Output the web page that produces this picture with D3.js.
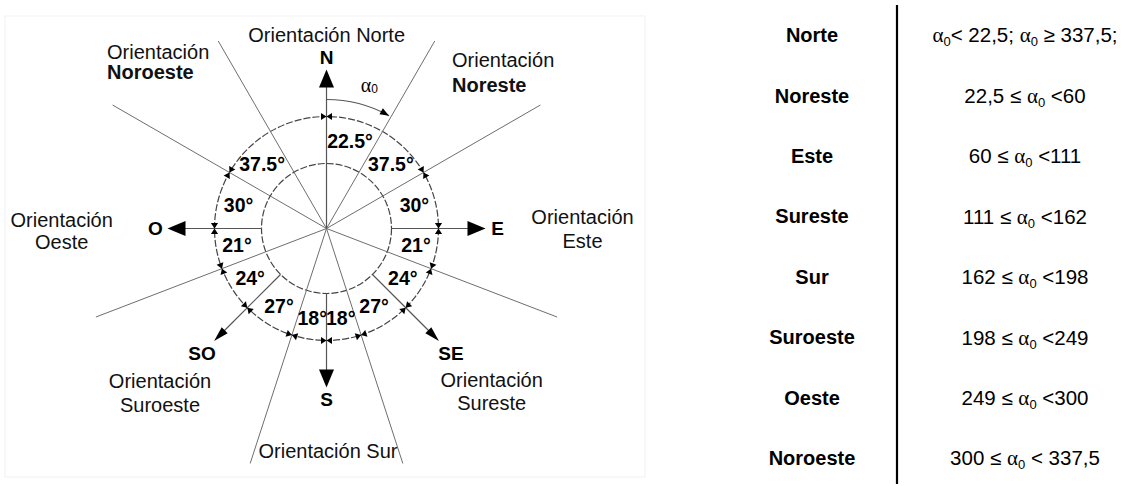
<!DOCTYPE html>
<html><head><meta charset="utf-8">
<script src="https://cdn.jsdelivr.net/npm/d3@7"></script>
<style>body{margin:0;background:#fff}</style>
</head><body><svg id="c" width="1131" height="486"></svg>
<script>
// ---------- DATA ----------
// sector boundaries (bearing from North, clockwise, degrees)
const boundaries = [22.5, 60, 111, 162, 198, 249, 300, 337.5];
// labelled angular spans in the compass
const spanStarts = [0, 22.5, 60, 90, 111, 135, 162, 180, 198, 225, 249, 270, 300];
const spanEnds   = [22.5, 60, 90, 111, 135, 162, 180, 198, 225, 249, 270, 300, 337.5];
// dimension marks on the outer circle
const tickBearings = [0, 60, 90, 111, 135, 162, 180, 198, 225, 249, 270, 300];
// direction arrows
const dirLabels   = ["N", "E", "SE", "S", "SO", "O"];
const dirBearings = [0, 90, 135, 180, 225, 270];
// orientation captions
const orientNames = ["Norte", "Noreste", "Este", "Sureste", "Sur", "Suroeste", "Oeste", "Noroeste"];
const orientPrefix = "Orientación";
// table
const tableNames  = ["Norte", "Noreste", "Este", "Sureste", "Sur", "Suroeste", "Oeste", "Noroeste"];
const tableRanges = ["α0< 22,5; α0 ≥ 337,5;", "22,5 ≤ α0 <60", "60 ≤ α0 <111", "111 ≤ α0 <162",
                     "162 ≤ α0 <198", "198 ≤ α0 <249", "249 ≤ α0 <300", "300 ≤ α0 < 337,5"];

// ---------- DRAW ----------
const svg = d3.select("#c");
const SANS = "'Liberation Sans', Arial, sans-serif";
svg.append("rect").attr("width", 1131).attr("height", 486).attr("fill", "#fff");
svg.append("rect").attr("x", 5).attr("y", 16).attr("width", 640).attr("height", 461)
  .attr("fill", "none").attr("stroke", "#f1f1f1");

const cx = 326.5, cy = 228.5, rOuter = 112, rInner = 65;
// the figure draws the North sector a bit wider than true scale
const figAngle = d3.scaleLinear().domain([0, 22.5, 60, 300, 337.5, 360]).range([0, 30, 60, 300, 330, 360]);
const rad = d3.scaleLinear().domain([0, 360]).range([0, 2 * Math.PI]);
const P = (b, r) => [cx + r * Math.sin(rad(b)), cy - r * Math.cos(rad(b))];

const g = svg.append("g");

// circles
[rInner, rOuter].forEach(r => g.append("circle").attr("cx", cx).attr("cy", cy).attr("r", r)
  .attr("fill", "none").attr("stroke", "#444").attr("stroke-width", 1.2).attr("stroke-dasharray", "7,2"));

// divider rays
boundaries.forEach(b => {
  const fb = figAngle(b);
  const c = Math.cos(rad(fb));
  let len = 247;
  if (c > 0) len = Math.min(len, (cy - 41) / c);
  const [x2, y2] = P(fb, len);
  g.append("line").attr("x1", cx).attr("y1", cy).attr("x2", x2).attr("y2", y2)
    .attr("stroke", "#6e6e6e").attr("stroke-width", 1);
});

// direction arrows
const tipR = 159;
dirBearings.forEach((b, i) => {
  const diag = b % 90 !== 0;
  const hl = diag ? 15 : 18, hw = diag ? 4.2 : 7.5;
  const r0 = b === 0 ? 0 : rInner;
  const [x1, y1] = P(b, r0), [x2, y2] = P(b, tipR - hl + 1);
  g.append("line").attr("x1", x1).attr("y1", y1).attr("x2", x2).attr("y2", y2)
    .attr("stroke", "#555").attr("stroke-width", 1.2);
  const tip = P(b, tipR), base = P(b, tipR - hl);
  const tx = Math.cos(rad(b)), ty = Math.sin(rad(b));
  g.append("path").attr("d", d3.line()([tip, [base[0] + hw * tx, base[1] + hw * ty], [base[0] - hw * tx, base[1] - hw * ty]]) + "Z")
    .attr("fill", "#000");
  const [lx, ly] = P(b, diag ? 176 : 171);
  g.append("text").attr("x", lx).attr("y", ly).attr("dy", "0.36em").attr("text-anchor", "middle")
    .attr("font-family", SANS).attr("font-weight", "bold").attr("font-size", 19).text(dirLabels[i]);
});

// hourglass dimension marks
tickBearings.forEach(b => {
  const p = P(b, rOuter);
  const t = [Math.cos(rad(b)), Math.sin(rad(b))], n = [Math.sin(rad(b)), -Math.cos(rad(b))];
  const L = 5.5, W = 3.6;
  [1, -1].forEach(s => {
    const bx = p[0] + s * L * t[0], by = p[1] + s * L * t[1];
    g.append("path").attr("d", d3.line()([p, [bx + W * n[0], by + W * n[1]], [bx - W * n[0], by - W * n[1]]]) + "Z")
      .attr("fill", "#000");
  });
});

// span labels
spanStarts.forEach((s, i) => {
  const e = spanEnds[i];
  const mid = (figAngle(s) + figAngle(e)) / 2;
  const [x, y] = P(mid, 91);
  g.append("text").attr("x", x).attr("y", y).attr("dy", "0.36em").attr("text-anchor", "middle")
    .attr("font-family", SANS).attr("font-weight", "bold").attr("font-size", 19.5)
    .text(d3.format("~g")(e - s) + "°");
});

// alpha0 arc
const arcEnd = figAngle(boundaries[0]) - 1, arcR = 129;
g.append("path").attr("transform", `translate(${cx},${cy})`)
  .attr("d", d3.arc()({innerRadius: arcR, outerRadius: arcR, startAngle: 0, endAngle: rad(arcEnd)}))
  .attr("fill", "none").attr("stroke", "#555").attr("stroke-width", 1.1);
{
  const p = P(arcEnd, arcR), t = [Math.cos(rad(arcEnd)), Math.sin(rad(arcEnd))], n = [Math.sin(rad(arcEnd)), -Math.cos(rad(arcEnd))];
  const bx = p[0] - 9 * t[0], by = p[1] - 9 * t[1];
  g.append("path").attr("d", d3.line()([p, [bx + 3.5 * n[0], by + 3.5 * n[1]], [bx - 3.5 * n[0], by - 3.5 * n[1]]]) + "Z").attr("fill", "#000");
  const [ax, ay] = P(arcEnd * 0.58, 148);
  const at = g.append("text").attr("x", ax).attr("y", ay).attr("dy", "0.3em").attr("text-anchor", "middle");
  at.append("tspan").attr("font-family", "'Liberation Serif', serif").attr("font-size", 20).text("α");
  at.append("tspan").attr("font-family", SANS).attr("font-size", 12).attr("dy", 1).text("0");
}

// orientation captions (layout of the figure)
const capLayout = {
  "Norte":    {x: 326.7, ys: [41.5], anchor: "middle", one: true},
  "Noreste":  {x: 452, ys: [66.5, 91.5], anchor: "start", bold: true},
  "Este":     {x: 582.5, ys: [223.5, 248], anchor: "middle"},
  "Sureste":  {x: 491.7, ys: [386.7, 410], anchor: "middle"},
  "Sur":      {x: 328, ys: [458.3], anchor: "middle", one: true},
  "Suroeste": {x: 160, ys: [388.3, 411.7], anchor: "middle"},
  "Oeste":    {x: 61.7, ys: [226.7, 248.5], anchor: "middle"},
  "Noroeste": {x: 107, ys: [58.5, 78.5], anchor: "start", bold: true}
};
orientNames.forEach(name => {
  const L = capLayout[name];
  const lines = L.one ? [orientPrefix + " " + name] : [orientPrefix, name];
  lines.forEach((txt, j) => {
    g.append("text").attr("x", L.x).attr("y", L.ys[j]).attr("text-anchor", L.anchor)
      .attr("font-family", SANS).attr("font-size", 20).attr("fill", "#111")
      .attr("font-weight", L.bold && j === 1 ? "bold" : "normal").text(txt);
  });
});

// ---------- TABLE ----------
const rowY = d3.scalePoint().domain(tableNames).range([35, 458]);
svg.append("line").attr("x1", 897).attr("x2", 897).attr("y1", 5).attr("y2", 484)
  .attr("stroke", "#000").attr("stroke-width", 2.2);
tableNames.forEach((nm, i) => {
  const y = rowY(nm);
  svg.append("text").attr("x", 812).attr("y", y).attr("dy", "0.36em").attr("text-anchor", "middle")
    .attr("font-family", SANS).attr("font-weight", "bold").attr("font-size", 20).text(nm);
  const t = svg.append("text").attr("x", 1025).attr("y", y).attr("dy", "0.36em").attr("text-anchor", "middle")
    .attr("font-family", SANS).attr("font-size", 20.5);
  const parts = tableRanges[i].split("α0");
  let pendingDy = 0;
  parts.forEach((p, k) => {
    if (p) {
      const ts = t.append("tspan").text(p);
      if (pendingDy) { ts.attr("dy", pendingDy); pendingDy = 0; }
    }
    if (k < parts.length - 1) {
      const a = t.append("tspan").attr("font-family", "'Liberation Serif', serif").attr("font-size", 21).text("α");
      if (pendingDy) { a.attr("dy", pendingDy); pendingDy = 0; }
      t.append("tspan").attr("font-size", 13).attr("dy", 4).text("0");
      pendingDy = -4;
    }
  });
});
</script></body></html>
